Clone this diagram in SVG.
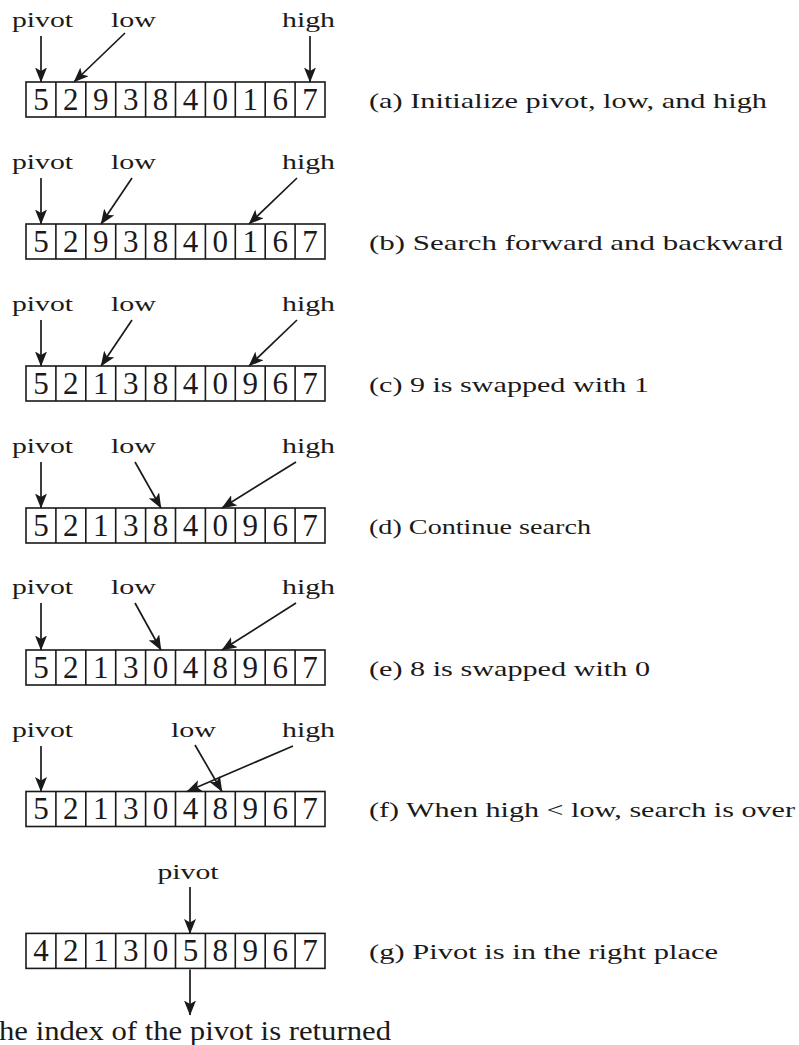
<svg xmlns="http://www.w3.org/2000/svg" xmlns:xlink="http://www.w3.org/1999/xlink" width="799" height="1045" viewBox="0 0 799 1045">
<style>
text{font-family:"Liberation Serif","Times New Roman",serif;fill:#1a1a1a}
.lbl{font-size:22px}
.cap{font-size:22px}
.dig{font-size:31px;text-anchor:middle}
.bot{font-size:27px}
.box{fill:#fff;stroke:#1a1a1a;stroke-width:1.6}
.div{fill:none;stroke:#1a1a1a;stroke-width:1.6}
.arr{fill:none;stroke:#1a1a1a;stroke-width:1.7;marker-end:url(#ah)}
</style>
<defs>
<marker id="ah" markerWidth="15" markerHeight="12" refX="14.5" refY="6" orient="auto" markerUnits="userSpaceOnUse"><path d="M0,0 L15,6 L0,12 L3.5,6 z" fill="#1a1a1a"/></marker>
<g id="grid">
<rect class="box" x="26" y="0" width="299" height="35"/>
<path class="div" d="M55.9 0v35M85.8 0v35M115.7 0v35M145.6 0v35M175.5 0v35M205.4 0v35M235.3 0v35M265.2 0v35M295.1 0v35"/>
</g>
</defs>
<rect width="799" height="1045" fill="#fff"/>

<g id="row-a">
<use xlink:href="#grid" y="82"/>
<g class="dig"><text x="40.95" y="109.5">5</text><text x="70.85" y="109.5">2</text><text x="100.75" y="109.5">9</text><text x="130.65" y="109.5">3</text><text x="160.55" y="109.5">8</text><text x="190.45" y="109.5">4</text><text x="220.35" y="109.5">0</text><text x="250.25" y="109.5">1</text><text x="280.15" y="109.5">6</text><text x="310.05" y="109.5">7</text></g>
<text class="lbl" x="12" y="27" textLength="61" lengthAdjust="spacingAndGlyphs">pivot</text>
<text class="lbl" x="111" y="27" textLength="45" lengthAdjust="spacingAndGlyphs">low</text>
<text class="lbl" x="282" y="27" textLength="53" lengthAdjust="spacingAndGlyphs">high</text>
<text class="cap" x="369" y="107.5" textLength="398" lengthAdjust="spacingAndGlyphs">(a) Initialize pivot, low, and high</text>
</g>

<g id="row-b">
<use xlink:href="#grid" y="224"/>
<g class="dig"><text x="40.95" y="251.5">5</text><text x="70.85" y="251.5">2</text><text x="100.75" y="251.5">9</text><text x="130.65" y="251.5">3</text><text x="160.55" y="251.5">8</text><text x="190.45" y="251.5">4</text><text x="220.35" y="251.5">0</text><text x="250.25" y="251.5">1</text><text x="280.15" y="251.5">6</text><text x="310.05" y="251.5">7</text></g>
<text class="lbl" x="12" y="169" textLength="61" lengthAdjust="spacingAndGlyphs">pivot</text>
<text class="lbl" x="111" y="169" textLength="45" lengthAdjust="spacingAndGlyphs">low</text>
<text class="lbl" x="282" y="169" textLength="53" lengthAdjust="spacingAndGlyphs">high</text>
<text class="cap" x="369" y="249.5" textLength="414" lengthAdjust="spacingAndGlyphs">(b) Search forward and backward</text>
</g>

<g id="row-c">
<use xlink:href="#grid" y="366"/>
<g class="dig"><text x="40.95" y="393.5">5</text><text x="70.85" y="393.5">2</text><text x="100.75" y="393.5">1</text><text x="130.65" y="393.5">3</text><text x="160.55" y="393.5">8</text><text x="190.45" y="393.5">4</text><text x="220.35" y="393.5">0</text><text x="250.25" y="393.5">9</text><text x="280.15" y="393.5">6</text><text x="310.05" y="393.5">7</text></g>
<text class="lbl" x="12" y="311" textLength="61" lengthAdjust="spacingAndGlyphs">pivot</text>
<text class="lbl" x="111" y="311" textLength="45" lengthAdjust="spacingAndGlyphs">low</text>
<text class="lbl" x="282" y="311" textLength="53" lengthAdjust="spacingAndGlyphs">high</text>
<text class="cap" x="369" y="391.5" textLength="280" lengthAdjust="spacingAndGlyphs">(c) 9 is swapped with 1</text>
</g>

<g id="row-d">
<use xlink:href="#grid" y="508"/>
<g class="dig"><text x="40.95" y="535.5">5</text><text x="70.85" y="535.5">2</text><text x="100.75" y="535.5">1</text><text x="130.65" y="535.5">3</text><text x="160.55" y="535.5">8</text><text x="190.45" y="535.5">4</text><text x="220.35" y="535.5">0</text><text x="250.25" y="535.5">9</text><text x="280.15" y="535.5">6</text><text x="310.05" y="535.5">7</text></g>
<text class="lbl" x="12" y="453" textLength="61" lengthAdjust="spacingAndGlyphs">pivot</text>
<text class="lbl" x="111" y="453" textLength="45" lengthAdjust="spacingAndGlyphs">low</text>
<text class="lbl" x="282" y="453" textLength="53" lengthAdjust="spacingAndGlyphs">high</text>
<text class="cap" x="369" y="533.5" textLength="222" lengthAdjust="spacingAndGlyphs">(d) Continue search</text>
</g>

<g id="row-e">
<use xlink:href="#grid" y="650"/>
<g class="dig"><text x="40.95" y="677.5">5</text><text x="70.85" y="677.5">2</text><text x="100.75" y="677.5">1</text><text x="130.65" y="677.5">3</text><text x="160.55" y="677.5">0</text><text x="190.45" y="677.5">4</text><text x="220.35" y="677.5">8</text><text x="250.25" y="677.5">9</text><text x="280.15" y="677.5">6</text><text x="310.05" y="677.5">7</text></g>
<text class="lbl" x="12" y="594" textLength="61" lengthAdjust="spacingAndGlyphs">pivot</text>
<text class="lbl" x="111" y="594" textLength="45" lengthAdjust="spacingAndGlyphs">low</text>
<text class="lbl" x="282" y="594" textLength="53" lengthAdjust="spacingAndGlyphs">high</text>
<text class="cap" x="369" y="675.5" textLength="281" lengthAdjust="spacingAndGlyphs">(e) 8 is swapped with 0</text>
</g>

<g id="row-f">
<use xlink:href="#grid" y="791.5"/>
<g class="dig"><text x="40.95" y="819">5</text><text x="70.85" y="819">2</text><text x="100.75" y="819">1</text><text x="130.65" y="819">3</text><text x="160.55" y="819">0</text><text x="190.45" y="819">4</text><text x="220.35" y="819">8</text><text x="250.25" y="819">9</text><text x="280.15" y="819">6</text><text x="310.05" y="819">7</text></g>
<text class="lbl" x="12" y="737" textLength="61" lengthAdjust="spacingAndGlyphs">pivot</text>
<text class="lbl" x="171" y="737" textLength="45" lengthAdjust="spacingAndGlyphs">low</text>
<text class="lbl" x="282" y="737" textLength="53" lengthAdjust="spacingAndGlyphs">high</text>
<text class="cap" x="369" y="817" textLength="426" lengthAdjust="spacingAndGlyphs">(f) When high &lt; low, search is over</text>
</g>

<g id="row-g">
<use xlink:href="#grid" y="933.4"/>
<g class="dig"><text x="40.95" y="961">4</text><text x="70.85" y="961">2</text><text x="100.75" y="961">1</text><text x="130.65" y="961">3</text><text x="160.55" y="961">0</text><text x="190.45" y="961">5</text><text x="220.35" y="961">8</text><text x="250.25" y="961">9</text><text x="280.15" y="961">6</text><text x="310.05" y="961">7</text></g>
<text class="lbl" x="157.5" y="878.5" textLength="61" lengthAdjust="spacingAndGlyphs">pivot</text>
<text class="cap" x="369" y="958.5" textLength="349" lengthAdjust="spacingAndGlyphs">(g) Pivot is in the right place</text>
<text class="bot" x="-1" y="1040" textLength="392" lengthAdjust="spacingAndGlyphs">he index of the pivot is returned</text>
</g>

<g id="connectors">
<line class="arr" x1="41" y1="36" x2="41" y2="82"/>
<line class="arr" x1="125" y1="33" x2="74" y2="82"/>
<line class="arr" x1="310" y1="36" x2="310" y2="82"/>

<line class="arr" x1="41" y1="178" x2="41" y2="224"/>
<line class="arr" x1="132" y1="178" x2="101" y2="224"/>
<line class="arr" x1="297" y1="178" x2="249" y2="224"/>

<line class="arr" x1="41" y1="320" x2="41" y2="366"/>
<line class="arr" x1="132" y1="320" x2="101" y2="366"/>
<line class="arr" x1="297" y1="320" x2="249" y2="366"/>

<line class="arr" x1="41" y1="462" x2="41" y2="508"/>
<line class="arr" x1="135" y1="462" x2="161" y2="508"/>
<line class="arr" x1="296" y1="462" x2="222" y2="508"/>

<line class="arr" x1="41" y1="603" x2="41" y2="650"/>
<line class="arr" x1="135" y1="603" x2="161" y2="650"/>
<line class="arr" x1="296" y1="603" x2="222" y2="650"/>

<line class="arr" x1="41" y1="746" x2="41" y2="791.5"/>
<line class="arr" x1="195" y1="745" x2="222" y2="791.5"/>
<line class="arr" x1="293" y1="746" x2="187" y2="791.5"/>

<line class="arr" x1="190" y1="887" x2="190" y2="933.4"/>
<line class="arr" x1="190" y1="969.4" x2="190" y2="1015"/>
</g>
</svg>
